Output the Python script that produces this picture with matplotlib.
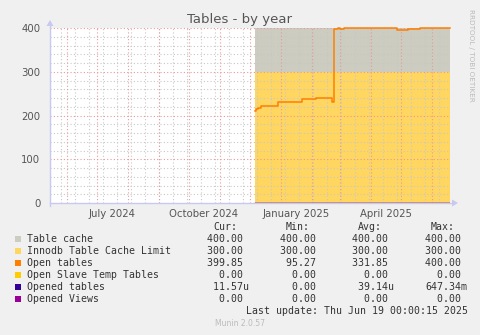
import matplotlib
matplotlib.use("Agg")
import matplotlib.pyplot as plt
import matplotlib.dates as mdates
import pandas as pd
import numpy as np

# ---------------- data ----------------
range_start = "2024-05-15"
range_end = "2025-06-19"
data_start = "2024-12-06"

table_cache = 400.0
innodb_limit = 300.0

open_dates = ["2024-12-06", "2024-12-07", "2024-12-09", "2024-12-12", "2024-12-27",
              "2024-12-29", "2025-01-20", "2025-01-22", "2025-02-04", "2025-02-05",
              "2025-02-20", "2025-02-21", "2025-02-23", "2025-02-27", "2025-03-01",
              "2025-03-05", "2025-04-26", "2025-04-27", "2025-05-07", "2025-05-08",
              "2025-05-20", "2025-05-25", "2025-06-19"]
open_values = [211, 214, 218, 222, 222,
               231, 231, 237, 237, 239,
               239, 230, 397, 400, 398,
               400, 400, 395, 395, 398,
               399, 400, 400]

zero_series_dates = ["2024-12-06", "2025-06-19"]
opened_tables = [0.0, 0.0]
opened_views = [0.0, 0.0]
slave_temp = [0.0, 0.0]

yticks = [0, 100, 200, 300, 400]
xtick_dates = ["2024-07-16", "2024-10-16", "2025-01-16", "2025-04-16"]
xtick_labels = ["July 2024", "October 2024", "January 2025", "April 2025"]

legend_names = ["Table cache", "Innodb Table Cache Limit", "Open tables",
                "Open Slave Temp Tables", "Opened tables", "Opened Views"]
legend_colors = ["#CCCCC0", "#FFD660", "#FF7F00", "#FFCC00", "#330099", "#990099"]
cur_vals = ["400.00 ", "300.00 ", "399.85 ", "  0.00 ", " 11.57u", "  0.00 "]
min_vals = ["400.00 ", "300.00 ", " 95.27 ", "  0.00 ", "  0.00 ", "  0.00 "]
avg_vals = ["400.00 ", "300.00 ", "331.85 ", "  0.00 ", " 39.14u", "  0.00 "]
max_vals = ["400.00 ", "300.00 ", "400.00 ", "  0.00 ", "647.34m", "  0.00 "]

# ---------------- figure ----------------
W, H = 481, 335
fig = plt.figure(figsize=(W / 100, H / 100), dpi=100, facecolor="#F0F0F0")

def px(x, y):
    return x / W, 1 - y / H

L, R, T, B = 50, 450, 28, 203
ax = fig.add_axes([L / W, 1 - B / H, (R - L) / W, (B - T) / H])
ax.set_facecolor("white")

t0 = pd.Timestamp(range_start)
t1 = pd.Timestamp(range_end)
ax.set_xlim(t0, t1)
ax.set_ylim(0, 400)

ds = pd.Timestamp(data_start)
area_x = [ds, t1]
ax.fill_between(area_x, 0, [table_cache, table_cache], color=legend_colors[0], lw=0, zorder=1)
ax.fill_between(area_x, 0, [innodb_limit, innodb_limit], color=legend_colors[1], lw=0, zorder=1.1)

# grid on top of areas
minor_days = pd.date_range("2024-05-26", range_end, freq="14D")
for d in minor_days:
    ax.axvline(d, color="#C8C8C8", lw=0.8, ls=(0, (1, 2)), zorder=2)
months = pd.date_range("2024-06-01", range_end, freq="MS")
for d in months:
    ax.axvline(d, color="#E89A9A", lw=0.8, ls=(0, (1, 2)), zorder=2.1)
for v in range(20, 400, 20):
    if v % 100:
        ax.axhline(v, color="#C8C8C8", lw=0.8, ls=(0, (1, 2)), zorder=2)
for v in [100, 200, 300, 400]:
    ax.axhline(v, color="#E89A9A", lw=0.8, ls=(0, (1, 2)), zorder=2.1)

zd = pd.to_datetime(zero_series_dates)
ax.plot(zd, slave_temp, color=legend_colors[3], lw=1, zorder=3)
ax.plot(zd, opened_tables, color=legend_colors[4], lw=1, zorder=3)
ax.plot(zd, opened_views, color=legend_colors[5], lw=1, zorder=3)

ax.plot(pd.to_datetime(open_dates), open_values, color=legend_colors[2], lw=1.1,
        drawstyle="steps-post", zorder=4, clip_on=False)

for s in ax.spines.values():
    s.set_visible(False)

ax.set_yticks(yticks)
ax.set_yticklabels([str(v) for v in yticks])
ax.set_xticks(pd.to_datetime(xtick_dates))
ax.set_xticklabels(xtick_labels)
ax.tick_params(axis="both", length=0, labelsize=7.3, labelcolor="#555555")
ax.tick_params(axis="y", pad=7)
ax.tick_params(axis="x", pad=4)

# axis lines with arrows
axcol = "#C8C8F0"
fig.add_artist(plt.Line2D([L / W, (R + 3) / W], [1 - B / H, 1 - B / H], color=axcol, lw=1))
fig.add_artist(plt.Line2D([L / W, L / W], [1 - (B + 3) / H, 1 - (T - 2) / H], color=axcol, lw=1))
fig.add_artist(plt.Polygon([px(R + 2, B - 3.5), px(R + 2, B + 3.5), px(R + 8, B)],
                           closed=True, color=axcol, lw=0))
fig.add_artist(plt.Polygon([px(L - 3.5, T - 2), px(L + 3.5, T - 2), px(L, T - 8)],
                           closed=True, color=axcol, lw=0))

# title
fig.text(*px(240, 19), "Tables - by year", ha="center", va="center",
         fontsize=9.5, color="#555555")
fig.text(*px(471, 55), "RRDTOOL / TOBI OETIKER", ha="center", va="center",
         rotation=270, fontsize=5.2, color="#BBBBBB")

# legend table
mono = "DejaVu Sans Mono"
fs = 7.1
hdr_y = 227
fig.text(*px(213, hdr_y), "Cur:", ha="left", va="center", family=mono, fontsize=fs, color="#333333")
fig.text(*px(286, hdr_y), "Min:", ha="left", va="center", family=mono, fontsize=fs, color="#333333")
fig.text(*px(358, hdr_y), "Avg:", ha="left", va="center", family=mono, fontsize=fs, color="#333333")
fig.text(*px(431, hdr_y), "Max:", ha="left", va="center", family=mono, fontsize=fs, color="#333333")

col_x = [207, 280, 352, 425]
for i, name in enumerate(legend_names):
    y = 239 + 12 * i
    fig.add_artist(plt.Rectangle(px(15, y + 3), 6 / W, 6 / H, color=legend_colors[i], lw=0))
    fig.text(*px(27, y), name, ha="left", va="center", family=mono, fontsize=fs, color="#333333")
    for cx, vals in zip(col_x, [cur_vals, min_vals, avg_vals, max_vals]):
        fig.text(*px(cx, y), vals[i], ha="left", va="center", family=mono,
                 fontsize=fs, color="#333333")

fig.text(*px(246, 311), "Last update: Thu Jun 19 00:00:15 2025", ha="left", va="center",
         family=mono, fontsize=fs, color="#333333")
fig.text(*px(240, 324), "Munin 2.0.57", ha="center", va="center",
         fontsize=5.5, color="#BBBBBB")

fig.savefig("out.png", dpi=100, facecolor=fig.get_facecolor())
